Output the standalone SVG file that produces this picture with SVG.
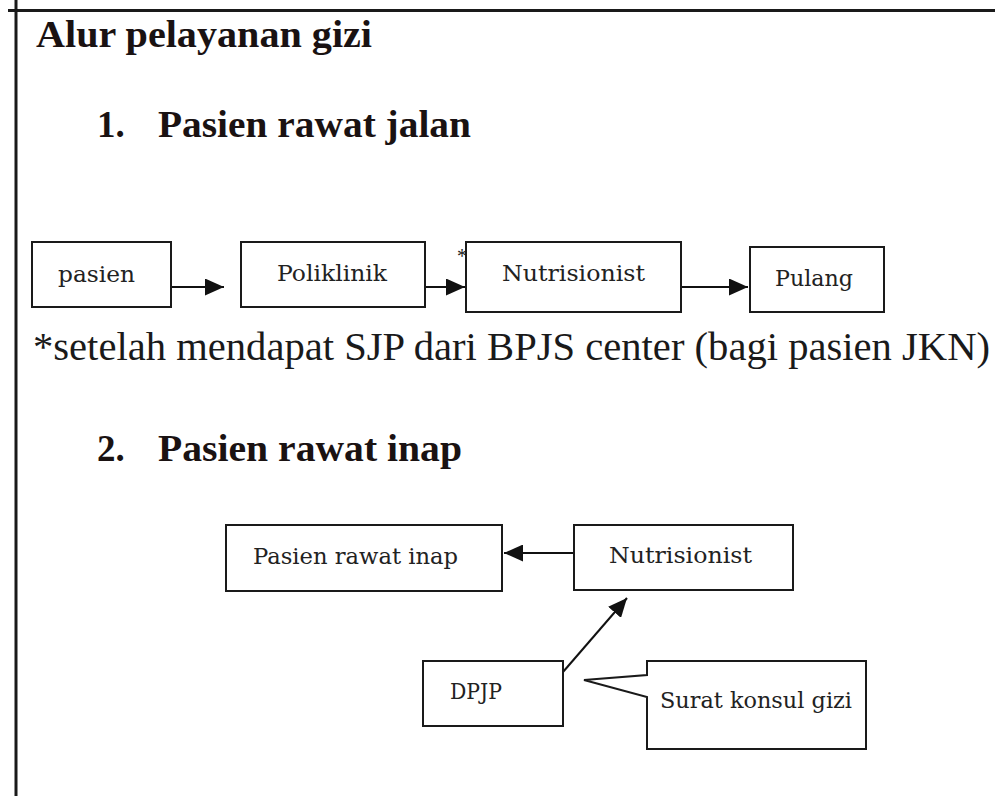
<svg xmlns="http://www.w3.org/2000/svg" width="995" height="796" viewBox="0 0 995 796">
  <style>
    .frame { stroke: #1a1a1a; stroke-width: 3; fill: none; }
    .box { fill: #ffffff; stroke: #1a1a1a; stroke-width: 2; }
    .head { font-weight: bold; fill: #1a1212; }
    .note { fill: #1a1a1a; }
    .lbl { font-size: 23px; fill: #222222; }
    .conn { stroke: #111111; stroke-width: 2; fill: none; }
  </style>
  <defs>
    <marker id="arrow" viewBox="0 0 19 17" refX="19" refY="8.5" markerWidth="19" markerHeight="17" markerUnits="userSpaceOnUse" orient="auto">
      <path d="M0,0 L19,8.5 L0,17 Z" fill="#111111"/>
    </marker>
  </defs>
  <rect x="0" y="0" width="995" height="796" fill="#ffffff"/>

  <g id="page-frame">
    <line class="frame" x1="16" y1="0" x2="16" y2="796"/>
    <line class="frame" x1="8" y1="10.5" x2="995" y2="10.5" stroke-width="2.5"/>
  </g>

  <g id="headings" font-family="Liberation Serif, serif">
    <text class="head" x="36" y="47" font-size="38" textLength="336" lengthAdjust="spacingAndGlyphs">Alur pelayanan gizi</text>
    <text class="head" x="97" y="137" font-size="37">1.</text>
    <text class="head" x="158" y="137" font-size="37" textLength="313" lengthAdjust="spacingAndGlyphs">Pasien rawat jalan</text>
    <text class="note" x="33" y="360" font-size="39" textLength="957" lengthAdjust="spacingAndGlyphs">*setelah mendapat SJP dari BPJS center (bagi pasien JKN)</text>
    <text class="head" x="97" y="461" font-size="37">2.</text>
    <text class="head" x="158" y="461" font-size="37" textLength="304" lengthAdjust="spacingAndGlyphs">Pasien rawat inap</text>
  </g>

  <g id="connectors">
    <line class="conn" x1="171" y1="287" x2="224" y2="287" marker-end="url(#arrow)"/>
    <line class="conn" x1="425" y1="287" x2="465" y2="287" marker-end="url(#arrow)"/>
    <line class="conn" x1="681" y1="287" x2="748" y2="287" marker-end="url(#arrow)"/>
    <line class="conn" x1="574" y1="553" x2="504" y2="553" marker-end="url(#arrow)"/>
    <line class="conn" x1="563" y1="672" x2="627" y2="598" marker-end="url(#arrow)"/>
  </g>

  <g id="nodes" font-family="DejaVu Serif, serif">
    <g id="node-pasien">
      <rect class="box" x="32" y="242" width="139" height="65"/>
      <text class="lbl" x="58" y="282" fill="#2f3f28" textLength="77" lengthAdjust="spacingAndGlyphs">pasien</text>
    </g>
    <g id="node-poliklinik">
      <rect class="box" x="241" y="242" width="184" height="65"/>
      <text class="lbl" x="277" y="281" textLength="110" lengthAdjust="spacingAndGlyphs">Poliklinik</text>
    </g>
    <g id="node-nutrisionist-1">
      <text class="note" x="457" y="263" font-size="20" font-family="Liberation Serif, serif">*</text>
      <rect class="box" x="466" y="242" width="215" height="70"/>
      <text class="lbl" x="502" y="281" textLength="143" lengthAdjust="spacingAndGlyphs">Nutrisionist</text>
    </g>
    <g id="node-pulang">
      <rect class="box" x="750" y="247" width="134" height="65"/>
      <text class="lbl" x="775" y="286" textLength="78" lengthAdjust="spacingAndGlyphs">Pulang</text>
    </g>
    <g id="node-pasien-rawat-inap">
      <rect class="box" x="226" y="525" width="276" height="66"/>
      <text class="lbl" x="253" y="564" textLength="205" lengthAdjust="spacingAndGlyphs">Pasien rawat inap</text>
    </g>
    <g id="node-nutrisionist-2">
      <rect class="box" x="574" y="525" width="219" height="65"/>
      <text class="lbl" x="609" y="563" textLength="143" lengthAdjust="spacingAndGlyphs">Nutrisionist</text>
    </g>
    <g id="node-dpjp">
      <rect class="box" x="423" y="661" width="140" height="65"/>
      <text class="lbl" x="450" y="699" textLength="52" lengthAdjust="spacingAndGlyphs">DPJP</text>
    </g>
    <g id="node-surat-konsul-gizi">
      <path class="box" d="M647,661 H866 V749 H647 V697 L584,680 L647,675 Z"/>
      <text class="lbl" x="660" y="708" textLength="192" lengthAdjust="spacingAndGlyphs">Surat konsul gizi</text>
    </g>
  </g>
</svg>
